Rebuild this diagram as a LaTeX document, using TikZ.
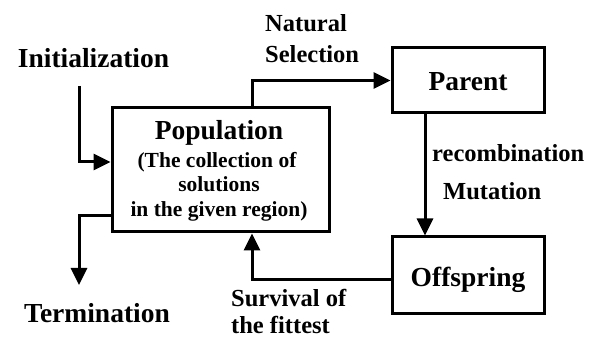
\documentclass[tikz,border=0pt]{standalone}
\usepackage{fontspec}
\setmainfont{Liberation Serif}
\usetikzlibrary{arrows.meta}
\begin{document}
\begin{tikzpicture}[x=1pt,y=-1pt,
  box/.style={draw, line width=3pt, inner sep=0pt, font=\bfseries\fontsize{27.5}{30}\selectfont},
  conn/.style={line width=3pt, -{Triangle[length=17pt,width=16pt]}},
  big/.style={inner sep=0pt, font=\bfseries\fontsize{27.5}{30}\selectfont},
  mid/.style={inner sep=0pt, font=\bfseries\fontsize{24.5}{28}\selectfont},
  small/.style={inner sep=0pt, font=\bfseries\fontsize{21.5}{25}\selectfont}]
\useasboundingbox (0,0) rectangle (592,339);
% boxes
\node[box, minimum width=217pt, minimum height=124pt] (pop) at (220.5,170) {};
\node[box, minimum width=152pt, minimum height=65pt, text height=21pt, text depth=0pt] (parent) at (468,80.5) {Parent};
\node[box, minimum width=152pt, minimum height=76pt, text height=24pt, text depth=0pt] (offspring) at (468,275) {Offspring};
% population text
\node[big, anchor=base] (poptitle) at (219,140) {Population};
\node[small, anchor=base] (popl1) at (217,168) {(The collection of};
\node[small, anchor=base] (popl2) at (219,192) {solutions};
\node[small, anchor=base] (popl3) at (219,216.5) {in the given region)};
% outer labels
\node[big, anchor=base] (init) at (93.5,68) {Initialization};
\node[big, anchor=base] (term) at (97,322) {Termination};
\node[mid, anchor=base west] (nat1) at (265,32) {Natural};
\node[mid, anchor=base west] (nat2) at (265,63) {Selection};
\node[mid, anchor=base west] (rec) at (432,162) {recombination};
\node[mid, anchor=base west] (mut) at (443,200) {Mutation};
\node[mid, anchor=base west] (surv1) at (231,306) {Survival of};
\node[mid, anchor=base west] (surv2) at (231,334) {the fittest};
% free ends
\coordinate (initstart) at (79,86);
\coordinate (termend) at (79,285);
% connectors
\draw[conn] (initstart) |- ([yshift=8pt]pop.west);
\draw[conn] ([yshift=-46pt]pop.west) -| (termend);
\draw[conn] ([xshift=31.5pt]pop.north) |- (parent.west);
\draw[conn] ([xshift=-43pt]parent.south) -- ([xshift=-43pt]offspring.north);
\draw[conn] ([yshift=-5pt]offspring.west) -| ([xshift=31.5pt]pop.south);
\end{tikzpicture}
\end{document}
